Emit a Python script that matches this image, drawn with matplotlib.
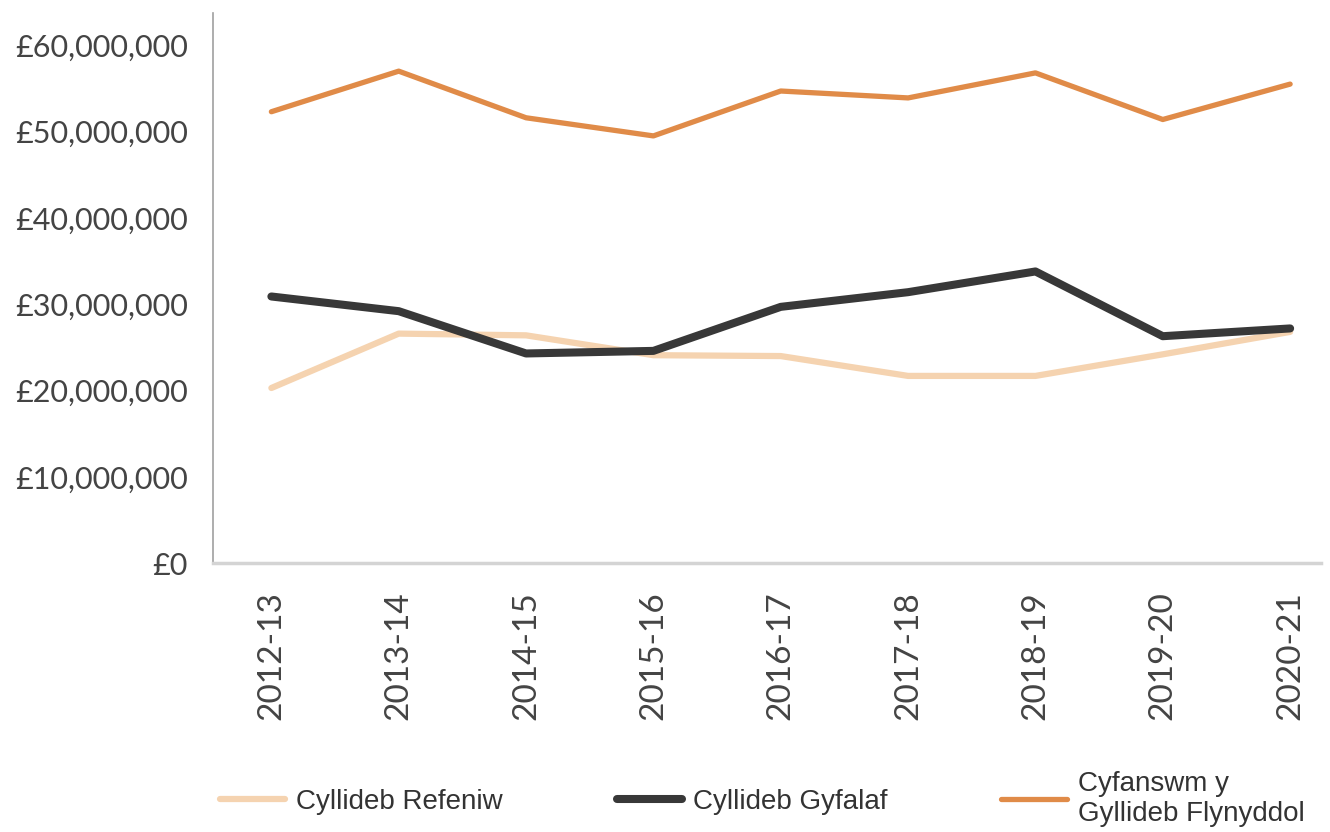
import matplotlib
matplotlib.use('Agg')
import matplotlib.pyplot as plt
from matplotlib.ticker import FuncFormatter, MultipleLocator

# data (values in £)
years = ['2012-13', '2013-14', '2014-15', '2015-16', '2016-17',
         '2017-18', '2018-19', '2019-20', '2020-21']
refeniw = [20.3e6, 26.6e6, 26.4e6, 24.1e6, 24.0e6, 21.7e6, 21.7e6, 24.2e6, 26.8e6]
gyfalaf = [30.9e6, 29.2e6, 24.3e6, 24.6e6, 29.7e6, 31.4e6, 33.8e6, 26.3e6, 27.2e6]
cyfanswm = [52.3e6, 57.0e6, 51.6e6, 49.5e6, 54.7e6, 53.9e6, 56.8e6, 51.4e6, 55.5e6]

labels = ['Cyllideb Refeniw', 'Cyllideb Gyfalaf', 'Cyfanswm y\nGyllideb Flynyddol']

fig = plt.figure(figsize=(13.3, 8.32), dpi=100)
ax = fig.add_axes([0.160, 0.323, 0.833, 0.661])

x = range(len(years))
l1, = ax.plot(x, refeniw, color='#F5D3B0', lw=4.5, solid_joinstyle='round',
              solid_capstyle='round')
l2, = ax.plot(x, gyfalaf, color='#383838', lw=5.8, solid_joinstyle='round',
              solid_capstyle='round')
l3, = ax.plot(x, cyfanswm, color='#E08B48', lw=3.8, solid_joinstyle='round',
              solid_capstyle='round')

# axes appearance
ax.set_xlim(-0.46, 8.24)
ax.set_ylim(0, 63.7e6)
ax.yaxis.set_major_locator(MultipleLocator(10e6))
ax.yaxis.set_major_formatter(FuncFormatter(lambda v, p: '£{:,.0f}'.format(v)))
ax.set_xticks(list(x))
ax.set_xticklabels(years, rotation=90)
ax.tick_params(length=0, labelcolor='#444444')
ax.tick_params(axis='y', pad=18, labelsize=22)
ax.tick_params(axis='x', pad=20, labelsize=24)
for t in ax.get_xticklabels() + ax.get_yticklabels():
    t.set_family('Lato')

ax.spines['top'].set_visible(False)
ax.spines['right'].set_visible(False)
ax.spines['left'].set_color('#a0a0a0')
ax.spines['left'].set_linewidth(1.2)
ax.spines['bottom'].set_color('#d4d4d4')
ax.spines['bottom'].set_linewidth(2.5)

# legend
fig.legend([l1, l2, l3], labels, ncol=3, loc='center',
           bbox_to_anchor=(0.573, 0.04), frameon=False,
           handlelength=2.35, handletextpad=0.4, columnspacing=4.1,
           prop={'family': 'Liberation Sans', 'size': 20})
for t in fig.legends[0].get_texts():
    t.set_color('#333333')

plt.savefig('out.png', dpi=100)
